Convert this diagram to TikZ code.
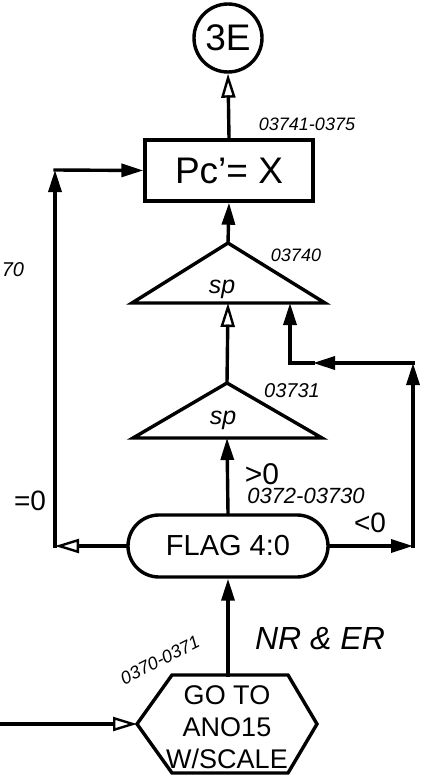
\documentclass[tikz,border=0pt]{standalone}
\usepackage{fontspec}
\setmainfont{Liberation Sans}
\usetikzlibrary{arrows.meta}
\begin{document}
\begin{tikzpicture}[x=1pt,y=-1pt,line width=3.4pt,line cap=rect,
  oarrow/.style={-{Triangle[open,length=24pt,width=14pt,line width=2.4pt]}},
  farrow/.style={-{Triangle[length=22pt,width=13pt]}},
  lab/.style={inner sep=0pt,font=\itshape\fontsize{18}{18}\selectfont},
  big/.style={inner sep=0pt,font=\fontsize{28}{28}\selectfont},
  spl/.style={inner sep=0pt,font=\itshape\fontsize{25}{25}\selectfont}]
\useasboundingbox (0,0) rectangle (424,776);
% nodes
\node[draw,circle,minimum size=68pt,inner sep=0pt,font=\fontsize{37}{37}\selectfont] (c3e) at (228,38) {3E};
\node[draw,minimum width=168pt,minimum height=61pt,inner sep=0pt,font=\fontsize{37}{37}\selectfont] (pc) at (229,170.5) {Pc'= X};
\node[draw,rounded corners=31pt,minimum width=200pt,minimum height=62pt,inner sep=0pt,font=\fontsize{29}{29}\selectfont] (flag) at (228,546) {FLAG 4:0};
% triangles
\coordinate (t1a) at (228,243); \coordinate (t1l) at (132,303); \coordinate (t1r) at (325,303); \coordinate (t1b) at (228,303);
\coordinate (t2a) at (227,383); \coordinate (t2l) at (133,438); \coordinate (t2r) at (322,438); \coordinate (t2b) at (227,438);
\draw[line cap=butt] (t1a) -- (t1r) -- (t1l) -- cycle;
\draw[line cap=butt] (t2a) -- (t2r) -- (t2l) -- cycle;
\node[spl] (sp1) at (222,289) {sp};
\node[spl] (sp2) at (223,420) {sp};
% hexagon
\coordinate (htl) at (172,675); \coordinate (htr) at (288,675); \coordinate (hr) at (317,724);
\coordinate (hbr) at (288,773); \coordinate (hbl) at (172,773); \coordinate (hl) at (137,724);
\coordinate (ht) at (228,675);
\draw[line cap=butt] (htl) -- (htr) -- (hr) -- (hbr) -- (hbl) -- (hl) -- cycle;
\node[align=center,inner sep=0pt,font=\fontsize{27}{32}\selectfont] (hextext) at (227,727) {GO TO\\ANO15\\W/SCALE};
% connectors
\coordinate (hin) at (0,724);
\draw[oarrow] (pc.north) -- (c3e.south);
\draw[farrow] (t1a) -- (pc.south);
\draw[oarrow] (t2a) -- (t1b);
\draw[farrow] (flag.north) -- (t2b);
\draw[farrow] (ht) -- (flag.south);
\draw[oarrow] (hin) -- (hl);
% left loop
\coordinate (lb) at (55,546); \coordinate (lt) at (55,170);
\draw[oarrow] (flag.west) -- (lb);
\draw[farrow] (lb) -- (lt);
\draw[farrow] (lt) -- (pc.west);
% right loop
\coordinate (rb) at (413,546); \coordinate (rt) at (413,363);
\coordinate (rm) at (313,363); \coordinate (rc) at (290,363); \coordinate (rin) at (290,303);
\draw[farrow] (flag.east) -- (rb);
\draw[farrow] (rb) -- (rt);
\draw[farrow] (rt) -- (rm);
\draw[farrow] (rm) -- (rc) -- (rin);
% labels
\node[lab] (l1) at (307,124) {03741-0375};
\node[lab] (l2) at (296,255) {03740};
\node[lab,font=\itshape\fontsize{20}{20}\selectfont] (l3) at (292,391) {03731};
\node[big,font=\fontsize{30}{30}\selectfont] (gt) at (262,474) {>0};
\node[lab,font=\itshape\fontsize{22}{22}\selectfont] (l4) at (306,496) {0372-03730};
\node[big] (lt0) at (370,523) {<0};
\node[big] (eq0) at (30,501) {=0};
\node[lab,font=\itshape\fontsize{20}{20}\selectfont] (l70) at (13,270) {70};
\node[inner sep=0pt,font=\itshape\fontsize{32}{32}\selectfont] (nrer) at (320,639) {NR \& ER};
\node[lab,rotate=27] (l5) at (160,660) {0370-0371};
\end{tikzpicture}
\end{document}
